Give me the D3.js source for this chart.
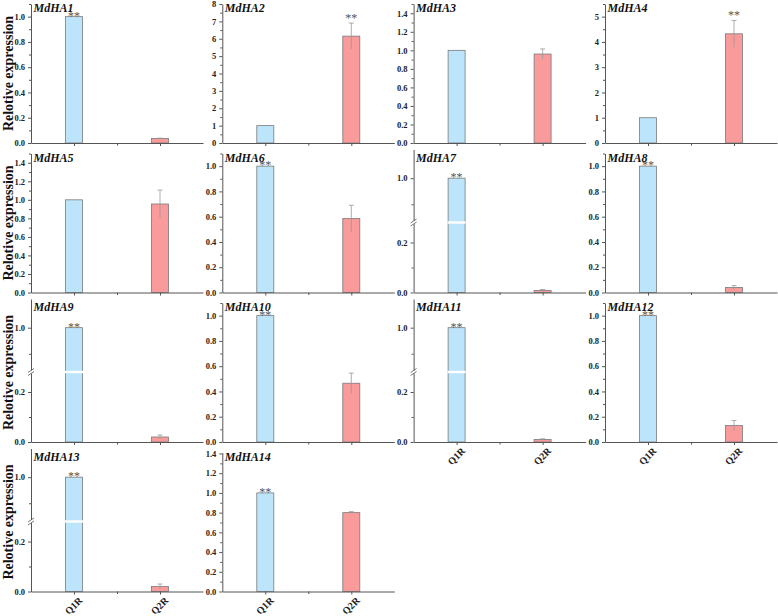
<!DOCTYPE html>
<html>
<head>
<meta charset="utf-8">
<script src="https://cdn.jsdelivr.net/npm/d3@7"></script>
<style>
  html, body { margin: 0; padding: 0; background: #fff; }
  svg { display: block; }
</style>
</head>
<body>
<svg id="chart" width="778" height="616"></svg>
<script>
// ---------------- data ----------------
const genes = ["MdHA1","MdHA2","MdHA3","MdHA4","MdHA5","MdHA6","MdHA7",
               "MdHA8","MdHA9","MdHA10","MdHA11","MdHA12","MdHA13","MdHA14"];
const categories = ["Q1R", "Q2R"];
const q1rValues = [1, 1, 1, 1, 1, 1, 1, 1, 1, 1, 1, 1, 1, 1];
const q1rErrors = [0, 0, 0, 0, 0, 0, 0, 0, 0, 0, 0, 0, 0, 0];
const q2rValues = [0.035, 6.15, 0.96, 4.32, 0.955, 0.585, 0.008, 0.04, 0.02, 0.465, 0.01, 0.13, 0.02, 0.80];
const q2rErrors = [0.004, 0.75, 0.055, 0.53, 0.15, 0.105, 0.004, 0.015, 0.008, 0.08, 0.003, 0.04, 0.01, 0.01];
const significance = ["Q1R","Q2R","","Q2R","","Q1R","Q1R","Q1R","Q1R","Q1R","Q1R","Q1R","Q1R","Q1R"];
const brokenAxis = [false,false,false,false,false,false,true,false,true,false,true,false,true,false];
const yMax  = [1.1, 8, 1.5, 5.5, 1.5, 1.1, 1.11, 1.1, 1.11, 1.1, 1.11, 1.1, 1.11, 1.41];
const yStep = [0.2, 1, 0.2, 1, 0.2, 0.2, 0.2, 0.2, 0.2, 0.2, 0.2, 0.2, 0.2, 0.2];
// broken axis segments
const breakLowerDomain = [0, 0.28];
const breakUpperDomain = [0.83, 1.11];
const breakLowerTicks = [0, 0.2];
const breakLowerMinor = [0.1];
const breakUpperTicks = [1.0];
const breakUpperMinor = [0.9];
const yLabel = "Relotive expression";

// ---------------- layout ----------------
const svg = d3.select("#chart");
const FONT = "'Liberation Serif', 'Times New Roman', serif";
const colX = [31, 222.3, 413.6, 605];
const rowY = [143, 292.5, 442, 591.5];
const axisW = 172;
const axisH = 139;
const brokenH = 143;
const barW = 17;
const axisColor = "#555";
const colors = { Q1R: "#BCE5FB", Q2R: "#F99B9B" };
const nCols = 4;

function styleAxis(g) {
  g.selectAll(".domain").attr("stroke", axisColor).attr("stroke-width", 1);
  g.selectAll(".tick line").attr("stroke", axisColor).attr("stroke-width", 1);
  g.selectAll(".tick text")
    .attr("font-family", FONT).attr("font-weight", "bold")
    .attr("font-size", 8.5).attr("fill", "#222");
  g.attr("font-family", null).attr("font-size", null);
}

genes.forEach((gene, i) => {
  const col = i % nCols, row = Math.floor(i / nCols);
  const x0 = colX[col], y0 = rowY[row];
  const g = svg.append("g");
  const isBottom = (i + nCols >= genes.length);

  const x = d3.scaleLinear().domain([0.5, 2.5]).range([x0, x0 + axisW]);

  let y, lowerS, upperS;
  if (brokenAxis[i]) {
    lowerS = d3.scaleLinear().domain(breakLowerDomain).range([y0, y0 - 70]);
    upperS = d3.scaleLinear().domain(breakUpperDomain).range([y0 - 70, y0 - brokenH]);
    y = v => v <= breakLowerDomain[1] ? lowerS(v) : (v < breakUpperDomain[0] ? y0 - 70 : upperS(v));
  } else {
    y = d3.scaleLinear().domain([0, yMax[i]]).range([y0, y0 - axisH]);
  }

  const data = categories.map((c, k) => ({
    cat: c, pos: k + 1,
    v: k === 0 ? q1rValues[i] : q2rValues[i],
    e: k === 0 ? q1rErrors[i] : q2rErrors[i]
  }));

  g.selectAll("rect.bar").data(data).enter().append("rect")
    .attr("class", "bar")
    .attr("x", d => x(d.pos) - barW / 2)
    .attr("width", barW)
    .attr("y", d => y(d.v))
    .attr("height", d => Math.max(0, y0 - y(d.v)))
    .attr("fill", d => colors[d.cat])
    .attr("stroke", "#7a7a7a")
    .attr("stroke-width", 0.8);

  data.forEach(d => {
    if (d.e > 0) {
      const cx = x(d.pos);
      const eg = g.append("g").attr("stroke", "#999").attr("stroke-width", 0.8);
      eg.append("line").attr("x1", cx).attr("x2", cx).attr("y1", y(d.v - d.e)).attr("y2", y(d.v + d.e));
      eg.append("line").attr("x1", cx - 2.5).attr("x2", cx + 2.5).attr("y1", y(d.v + d.e)).attr("y2", y(d.v + d.e));
    }
  });

  if (brokenAxis[i]) {
    data.forEach(d => {
      if (d.v > breakUpperDomain[0]) {
        g.append("rect").attr("x", x(d.pos) - barW / 2 - 0.5).attr("width", barW + 1)
          .attr("y", y0 - 71.2).attr("height", 2.4).attr("fill", "#fff");
      }
    });
  }

  // significance
  if (significance[i]) {
    const d = data.find(dd => dd.cat === significance[i]);
    const base = d.e > 0 ? y(d.v + d.e) - 1.5 : y(d.v) + 3;
    g.append("text").attr("x", x(d.pos)).attr("y", base)
      .attr("text-anchor", "middle").attr("font-family", FONT)
      .attr("font-size", 12).attr("fill", "#555").text("**");
  }

  // x axis
  const xa = g.append("g").attr("transform", `translate(0,${y0})`)
    .call(d3.axisBottom(x).tickValues([1, 2]).tickSize(3).tickSizeOuter(0)
      .tickFormat(v => isBottom ? categories[v - 1] : ""));
  styleAxis(xa);
  xa.selectAll(".tick text")
    .attr("font-size", 10)
    .attr("text-anchor", "middle")
    .attr("dy", 0).attr("y", 0)
    .attr("transform", "translate(0,15) rotate(-45)")
    .attr("dominant-baseline", "middle");
  g.append("g").attr("transform", `translate(0,${y0})`)
    .call(d3.axisBottom(x).tickValues([1.5]).tickSize(2.5).tickSizeOuter(0).tickFormat(""))
    .call(ga => { ga.select(".domain").remove(); styleAxis(ga); });

  // y axis
  if (brokenAxis[i]) {
    const la = g.append("g").attr("transform", `translate(${x0},0)`)
      .call(d3.axisLeft(lowerS).tickValues(breakLowerTicks).tickSize(3).tickSizeOuter(0).tickFormat(d3.format(".1f")));
    styleAxis(la);
    g.append("g").attr("transform", `translate(${x0},0)`)
      .call(d3.axisLeft(lowerS).tickValues(breakLowerMinor).tickSize(2).tickSizeOuter(0).tickFormat(""))
      .call(ga => { ga.select(".domain").remove(); styleAxis(ga); });
    const ua = g.append("g").attr("transform", `translate(${x0},0)`)
      .call(d3.axisLeft(upperS).tickValues(breakUpperTicks).tickSize(3).tickSizeOuter(0).tickFormat(d3.format(".1f")));
    styleAxis(ua);
    g.append("g").attr("transform", `translate(${x0},0)`)
      .call(d3.axisLeft(upperS).tickValues(breakUpperMinor).tickSize(2).tickSizeOuter(0).tickFormat(""))
      .call(ga => { ga.select(".domain").remove(); styleAxis(ga); });
    const by = y0 - 70;
    g.append("rect").attr("x", x0 - 3).attr("y", by - 1.5).attr("width", 6).attr("height", 3).attr("fill", "#fff");
    [-1.5, 1.5].forEach(o => {
      g.append("line").attr("x1", x0 - 3).attr("x2", x0 + 3)
        .attr("y1", by + o + 2).attr("y2", by + o - 2)
        .attr("stroke", axisColor).attr("stroke-width", 0.8);
    });
  } else {
    const majors = d3.range(0, yMax[i] + 1e-9, yStep[i]).filter(v => v <= yMax[i] + 1e-9);
    const minors = d3.range(yStep[i] / 2, yMax[i] + 1e-9, yStep[i]);
    const fmt = yStep[i] < 1 ? d3.format(".1f") : d3.format("d");
    const ya = g.append("g").attr("transform", `translate(${x0},0)`)
      .call(d3.axisLeft(y).tickValues(majors).tickSize(3).tickSizeOuter(0).tickFormat(fmt));
    styleAxis(ya);
    g.append("g").attr("transform", `translate(${x0},0)`)
      .call(d3.axisLeft(y).tickValues(minors).tickSize(2).tickSizeOuter(0).tickFormat(""))
      .call(ga => { ga.select(".domain").remove(); styleAxis(ga); });
  }

  // title
  g.append("text").attr("x", x0 + 2.5).attr("y", y0 - 131)
    .attr("font-family", FONT).attr("font-weight", "bold").attr("font-style", "italic")
    .attr("font-size", 12).attr("fill", "#111").text(gene);

  // y label
  if (col === 0) {
    g.append("text")
      .attr("transform", `translate(13,${y0 - axisH / 2}) rotate(-90)`)
      .attr("text-anchor", "middle")
      .attr("font-family", FONT).attr("font-weight", "bold")
      .attr("font-size", 14).attr("fill", "#111").text(yLabel);
  }
});
</script>
</body>
</html>
